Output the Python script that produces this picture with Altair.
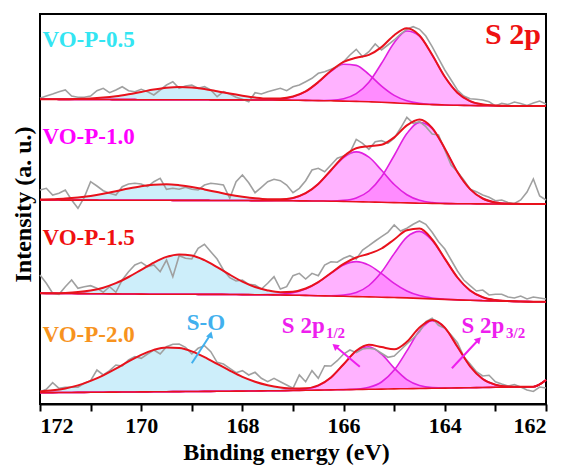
import altair as alt
import pandas as pd

FONT = "'Liberation Serif', 'Times New Roman', Times, serif"

# ---------------- data ----------------
energy_fit = [round(172 - 0.25 * i, 3) for i in range(41)]     # fit grid (eV)
energy_raw = [round(172 - 0.125 * i, 3) for i in range(81)]    # raw grid (eV)

samples = ["VO-P-0.5", "VO-P-1.0", "VO-P-1.5", "VO-P-2.0"]
sample_colors = ["#33E5F2", "#FF00FF", "#F01010", "#F7931E"]

# VO-P-0.5 (stacked intensity, a.u.)
base_05 = [304.7, 304.7, 304.6, 304.6, 304.5, 304.5, 304.4, 304.4, 304.3, 304.3,
           304.3, 304.2, 304.2, 304.2, 304.1, 304.1, 304.1, 304.0, 304.0, 303.9,
           303.8, 303.6, 303.4, 303.2, 302.9, 302.6, 302.2, 301.7, 301.1, 300.5,
           299.9, 299.4, 299.0, 298.7, 298.5, 298.3, 298.2, 298.1, 298.0, 298.0, 298.0]
so_05 = [0, 0.1, 0.2, 0.5, 1.0, 1.9, 3.4, 5.4, 7.8, 10.1, 11.9, 12.8, 12.4, 10.9, 8.7,
         6.3, 4.2, 2.5, 1.3, 0.7, 0.3, 0.1] + [0] * 19
p12_05 = [0] * 18 + [0.2, 1.0, 3.4, 8.9, 18.4, 29.5, 36.9, 36.0, 27.4, 16.2, 7.5, 2.7,
                     0.7, 0.2] + [0] * 9
p32_05 = [0] * 22 + [0.1, 0.6, 2.4, 7.7, 19.6, 39.0, 60.2, 72.5, 67.9, 49.6, 28.2, 12.5,
                     4.3, 1.2, 0.2] + [0] * 4
raw_05 = [305.7, 308, 310, 312.3, 314, 308, 306.7, 306.7, 308, 313.3,
          315.7, 311.3, 314, 317.3, 313.3, 312.3, 314.7, 312.3, 309, 314,
          319, 322.3, 315.7, 318, 319, 315.7, 317.3, 314, 307.3, 312.3,
          310, 306.7, 304.7, 302.3, 311.3, 310, 312.3, 314, 315.7, 313.3,
          317.3, 319, 322.3, 325.7, 330.7, 332.3, 334.7, 337.3, 342.3, 349,
          354.7, 347.3, 352.3, 360, 354, 359, 364, 370, 374.7, 377.3,
          374.7, 368, 357.3, 345.7, 334, 324, 314, 308, 305.3, 304.7,
          304, 302.3, 298, 300.7, 299.5, 302, 300.5, 298.5, 301, 303, 300]

# VO-P-1.0
base_10 = [204.0, 204.0, 203.9, 203.9, 203.9, 203.8, 203.8, 203.8, 203.7, 203.7,
           203.7, 203.6, 203.6, 203.6, 203.5, 203.5, 203.5, 203.4, 203.4, 203.3,
           203.2, 203.1, 203.0, 202.8, 202.6, 202.3, 202.0, 201.7, 201.4, 201.1,
           200.8, 200.6, 200.4, 200.3, 200.2, 200.1, 200.0, 200.0, 200.0, 200.0, 200.0]
so_10 = [0.4, 0.8, 1.5, 2.6, 4.2, 6.4, 8.9, 11.6, 14.0, 15.5, 16.0, 15.2, 13.5, 11.0,
         8.4, 5.8, 3.8, 2.3, 1.2, 0.7, 0.3, 0.1] + [0] * 19
p12_10 = [0] * 18 + [0.2, 0.7, 2.6, 7.6, 17.1, 30.8, 43.9, 49.8, 44.8, 32.0, 18.1, 8.2,
                     2.9, 0.8, 0.2] + [0] * 8
p32_10 = [0] * 23 + [0.2, 1.0, 3.7, 11.0, 25.5, 47.1, 69.3, 80.8, 74.8, 55.0, 31.7, 14.7,
                     5.4, 1.6, 0.4, 0.1] + [0] * 2
raw_10 = [214, 215.7, 209, 210.7, 214, 204, 195.7, 206.7, 222.3, 218,
          213.3, 210.7, 209, 217.3, 220, 220.7, 220, 217.3, 222.3, 225.7,
          214.7, 215.7, 214.7, 216.7, 214.7, 214, 219, 220.7, 220, 219,
          205.7, 222.3, 229, 221.3, 211.3, 216.7, 222.3, 224.7, 223.3, 219,
          211.3, 215.7, 223.3, 234, 235.7, 232.3, 239, 245.7, 248, 251.3,
          264.7, 260.7, 254.7, 262.3, 263.3, 260.7, 265.7, 275.7, 286.7, 280.7,
          282.3, 277.3, 270, 269, 254, 239, 232.3, 224, 214.7, 212.3,
          209, 206.7, 203.3, 204, 201.5, 200.5, 204, 212, 225, 208, 204]

# VO-P-1.5
base_15 = [110.7, 110.6, 110.5, 110.4, 110.3, 110.2, 110.1, 110.0, 109.9, 109.8,
           109.8, 109.7, 109.7, 109.6, 109.6, 109.5, 109.4, 109.3, 109.2, 109.0,
           108.8, 108.6, 108.3, 108.0, 107.7, 107.4, 107.1, 106.8, 106.5, 106.1,
           105.6, 105.1, 104.6, 104.1, 103.7, 103.3, 103.0, 102.7, 102.5, 102.3, 102.2]
so_15 = [0.1, 0.2, 0.6, 1.5, 3.2, 6.1, 10.7, 17.0, 24.3, 31.6, 37.3, 39.9, 38.8, 34.2,
         27.3, 19.8, 13.0, 7.7, 4.2, 2.0, 0.9, 0.4, 0.1] + [0] * 18
p12_15 = [0] * 18 + [0.2, 0.8, 2.6, 6.5, 13.5, 22.7, 31.3, 35.0, 31.8, 23.6, 14.1, 6.9,
                     2.8, 0.9, 0.2] + [0] * 8
p32_15 = [0] * 23 + [0.3, 1.2, 4.1, 11.4, 25.1, 43.9, 60.8, 67.0, 58.5, 40.6, 22.4, 9.8,
                     3.4, 0.9, 0.2] + [0] * 3
raw_15 = [129, 120.7, 110.7, 109.7, 117.3, 124, 115.7, 117.3, 118.3, 115.7,
          111.7, 117.3, 111.7, 124, 132.3, 139, 141.7, 137.3, 139, 132.3,
          144, 127.3, 148.3, 145.7, 145, 155.7, 159.7, 152.3, 145, 134,
          126.3, 123, 124, 119.7, 119, 115, 120.7, 127.3, 115, 117.3,
          128.3, 130.7, 125, 130.7, 128.3, 139, 142.3, 141.7, 145.7, 148.3,
          145, 154, 158.3, 163, 167.3, 171.7, 179, 173, 175.7, 179.7,
          183, 179.7, 171.7, 162.3, 155, 144, 133, 124, 118.3, 113,
          114, 109, 109.7, 109.7, 107, 106, 108, 105, 107, 106, 105]

# VO-P-2.0
base_20 = [11.3, 11.4, 11.5, 11.6, 11.7, 11.8, 11.9, 12.0, 12.1, 12.2,
           12.3, 12.4, 12.5, 12.6, 12.7, 12.8, 12.9, 13.0, 13.2, 13.3,
           13.5, 13.7, 13.9, 14.1, 14.3, 14.5, 14.7, 14.9, 15.1, 15.3,
           15.5, 15.7, 15.9, 16.1, 16.3, 16.5, 16.7, 16.9, 17.1, 17.3, 24.0]
so_20 = [1.2, 2.3, 4.1, 7.0, 11.4, 16.9, 23.4, 30.7, 37.1, 41.9, 44.3, 43.6, 40.1, 34.3,
         27.5, 20.6, 14.2, 9.3, 5.6, 3.2, 1.7, 0.8, 0.4, 0.2] + [0] * 17
p12_20 = [0] * 20 + [0.2, 1.2, 4.4, 12.3, 25.4, 38.3, 42.6, 34.9, 20.8, 9.1, 3.0, 0.7,
                     0.1] + [0] * 8
p32_20 = [0] * 24 + [0.1, 0.4, 2.0, 7.1, 18.8, 37.8, 58.0, 67.7, 60.4, 41.1, 21.4, 8.5,
                     2.6, 0.6, 0.1] + [0] * 2
raw_20 = [12.3, 14.7, 21.3, 15.7, 16.7, 16.7, 16.7, 20.7, 23.3, 34,
          29, 33.3, 39, 38, 44, 47.3, 45.7, 50, 54, 50,
          57.3, 59.7, 60, 56.7, 50, 55.7, 58.3, 52.3, 41.7, 40,
          35.7, 31.3, 33.3, 29, 31.7, 25.7, 22.3, 25.7, 22.3, 19,
          15.7, 29, 22.3, 33.3, 25.7, 38.3, 38, 43.3, 50, 54,
          51.3, 55, 55.7, 54.7, 50.7, 46.7, 48, 54, 60, 65.7,
          72.3, 82.3, 85.7, 78.7, 75.7, 69, 61.3, 47.3, 40, 32.3,
          28, 28.7, 22.3, 20, 18, 19.5, 17, 14, 12.5, 17, 16]

# sample labels
label_energy = [171.95, 171.95, 171.95, 171.95]
label_height = [364, 267.3, 166, 69]

# peak annotations
peak_text = ["S-O", "S 2p", "S 2p"]
peak_energy = [168.72, 167.22, 163.67]
peak_height = [81.3, 78, 78]
peak_align = ["center", "left", "left"]
peak_colors = ["#41B0EE", "#EE1EEE", "#EE1EEE"]
sub_text = ["1/2", "3/2"]
sub_energy = [166.35, 162.79]
sub_height = [70.7, 70.7]

arrow_e0 = [169.0, 165.68, 163.86]
arrow_h0 = [40.7, 37.3, 35.7]
arrow_e1 = [168.63, 166.17, 163.33]
arrow_h1 = [69.5, 58.0, 64.5]
arrow_angle = [17, 309, 43]

# ---------------- tables ----------------
fit_sets = {
    "VO-P-0.5": (base_05, so_05, p12_05, p32_05, raw_05),
    "VO-P-1.0": (base_10, so_10, p12_10, p32_10, raw_10),
    "VO-P-1.5": (base_15, so_15, p12_15, p32_15, raw_15),
    "VO-P-2.0": (base_20, so_20, p12_20, p32_20, raw_20),
}
fit_rows, raw_rows = [], []
for name, (b, s, p1, p3, r) in fit_sets.items():
    assert len(b) == len(s) == len(p1) == len(p3) == 41, name
    assert len(r) == 81, name
    for e, bv, sv, v1, v3 in zip(energy_fit, b, s, p1, p3):
        fit_rows.append({"sample": name, "energy": e, "base": bv,
                         "so_top": bv + sv, "p12_top": bv + v1, "p32_top": bv + v3,
                         "envelope": bv + sv + v1 + v3})
    for e, rv in zip(energy_raw, r):
        raw_rows.append({"sample": name, "energy": e, "intensity": rv})
fit = pd.DataFrame(fit_rows)
raw = pd.DataFrame(raw_rows)

labels = pd.DataFrame({"text": samples, "energy": label_energy,
                       "h": label_height, "color": sample_colors})
peaks = pd.DataFrame({"text": peak_text, "energy": peak_energy, "h": peak_height,
                      "color": peak_colors, "align": peak_align})
subs = pd.DataFrame({"text": sub_text, "energy": sub_energy, "h": sub_height})
arrows = pd.DataFrame({"e0": arrow_e0, "h0": arrow_h0, "e1": arrow_e1, "h1": arrow_h1,
                       "angle": arrow_angle, "color": peak_colors})
title_df = pd.DataFrame({"text": ["S 2p"], "energy": [162.1], "h": [369]})

# ---------------- encodings ----------------
x_scale = alt.Scale(domain=[172, 162], nice=False, zero=False)
y_scale = alt.Scale(domain=[0, 390], nice=False, zero=False)
x_axis = alt.Axis(values=list(range(162, 173)), format="d",
                  labelExpr="datum.value % 2 === 0 ? datum.label : ''",
                  title="Binding energy (eV)", titleFont=FONT, titleFontSize=24,
                  titleFontWeight="bold", titleColor="black", titleX=246, titleY=55,
                  titleBaseline="alphabetic",
                  labelFont=FONT, labelFontSize=22, labelFontWeight="bold",
                  labelColor="black", labelPadding=4, tickColor="black", tickWidth=2,
                  tickSize=7, domainColor="black", domainWidth=2, grid=False)
y_axis = alt.Axis(title="Intensity (a. u.)", labels=False, ticks=False, domain=False,
                  grid=False, titleFont=FONT, titleFontSize=24, titleFontWeight="bold",
                  titleColor="black", titleX=-10, titleY=190,
                  titleBaseline="alphabetic", titleAlign="center")


def X(f):
    return alt.X(f + ":Q", scale=x_scale, axis=x_axis)


def Y(f):
    return alt.Y(f + ":Q", scale=y_scale, axis=y_axis)


base = alt.Chart(fit)

so_area = base.mark_area(color="#CDEEFA", interpolate="monotone").encode(
    x=X("energy"), y=Y("so_top"), y2="base:Q", detail="sample:N")
p12_area = base.mark_area(color="#FF66FF", opacity=0.5, interpolate="monotone").encode(
    x=X("energy"), y=Y("p12_top"), y2="base:Q", detail="sample:N")
p32_area = base.mark_area(color="#FF66FF", opacity=0.5, interpolate="monotone").encode(
    x=X("energy"), y=Y("p32_top"), y2="base:Q", detail="sample:N")
p12_line = base.mark_line(color="#E020E0", strokeWidth=1.6, interpolate="monotone").encode(
    x=X("energy"), y=Y("p12_top"), detail="sample:N")
p32_line = base.mark_line(color="#E020E0", strokeWidth=1.6, interpolate="monotone").encode(
    x=X("energy"), y=Y("p32_top"), detail="sample:N")
raw_line = alt.Chart(raw).mark_line(color="#A0A0A0", strokeWidth=1.6).encode(
    x=X("energy"), y=Y("intensity"), detail="sample:N")
base_line = base.mark_line(color="#E8121C", strokeWidth=1.6, interpolate="monotone").encode(
    x=X("energy"), y=Y("base"), detail="sample:N")
env_line = base.mark_line(color="#E8121C", strokeWidth=2, interpolate="monotone").encode(
    x=X("energy"), y=Y("envelope"), detail="sample:N")

label_layer = alt.Chart(labels).mark_text(
    align="left", baseline="middle", font=FONT, fontSize=23, fontWeight="bold").encode(
    x=X("energy"), y=Y("h"), text="text:N", color=alt.Color("color:N", scale=None))

title_layer = alt.Chart(title_df).mark_text(
    align="right", baseline="middle", font=FONT, fontSize=30, fontWeight="bold",
    color="#EE1111").encode(x=X("energy"), y=Y("h"), text="text:N")

peak_center = alt.Chart(peaks).transform_filter("datum.align == 'center'").mark_text(
    align="center", baseline="middle", font=FONT, fontSize=23, fontWeight="bold").encode(
    x=X("energy"), y=Y("h"), text="text:N", color=alt.Color("color:N", scale=None))
peak_left = alt.Chart(peaks).transform_filter("datum.align == 'left'").mark_text(
    align="left", baseline="middle", font=FONT, fontSize=23, fontWeight="bold").encode(
    x=X("energy"), y=Y("h"), text="text:N", color=alt.Color("color:N", scale=None))
sub_layer = alt.Chart(subs).mark_text(
    align="left", baseline="middle", font=FONT, fontSize=15, fontWeight="bold",
    color="#EE1EEE").encode(x=X("energy"), y=Y("h"), text="text:N")

arrow_lines = alt.Chart(arrows).mark_rule(strokeWidth=2).encode(
    x=X("e0"), y=Y("h0"), x2="e1:Q", y2="h1:Q", color=alt.Color("color:N", scale=None))
arrow_heads = alt.Chart(arrows).mark_point(shape="triangle-up", filled=True, size=55,
                                           opacity=1).encode(
    x=X("e1"), y=Y("h1"), color=alt.Color("color:N", scale=None),
    angle=alt.Angle("angle:Q", scale=None))

chart = alt.layer(
    so_area, p12_area, p32_area, p12_line, p32_line, raw_line, base_line, env_line,
    label_layer, title_layer, peak_center, peak_left, sub_layer, arrow_lines, arrow_heads
).properties(
    width=506, height=390,
    autosize=alt.AutoSizeParams(type="none"),
    padding={"left": 40, "top": 14, "right": 20, "bottom": 62},
    background="white",
).configure_view(stroke="black", strokeWidth=2)

chart.save("out.html", embed_options={"renderer": "svg", "actions": False})
